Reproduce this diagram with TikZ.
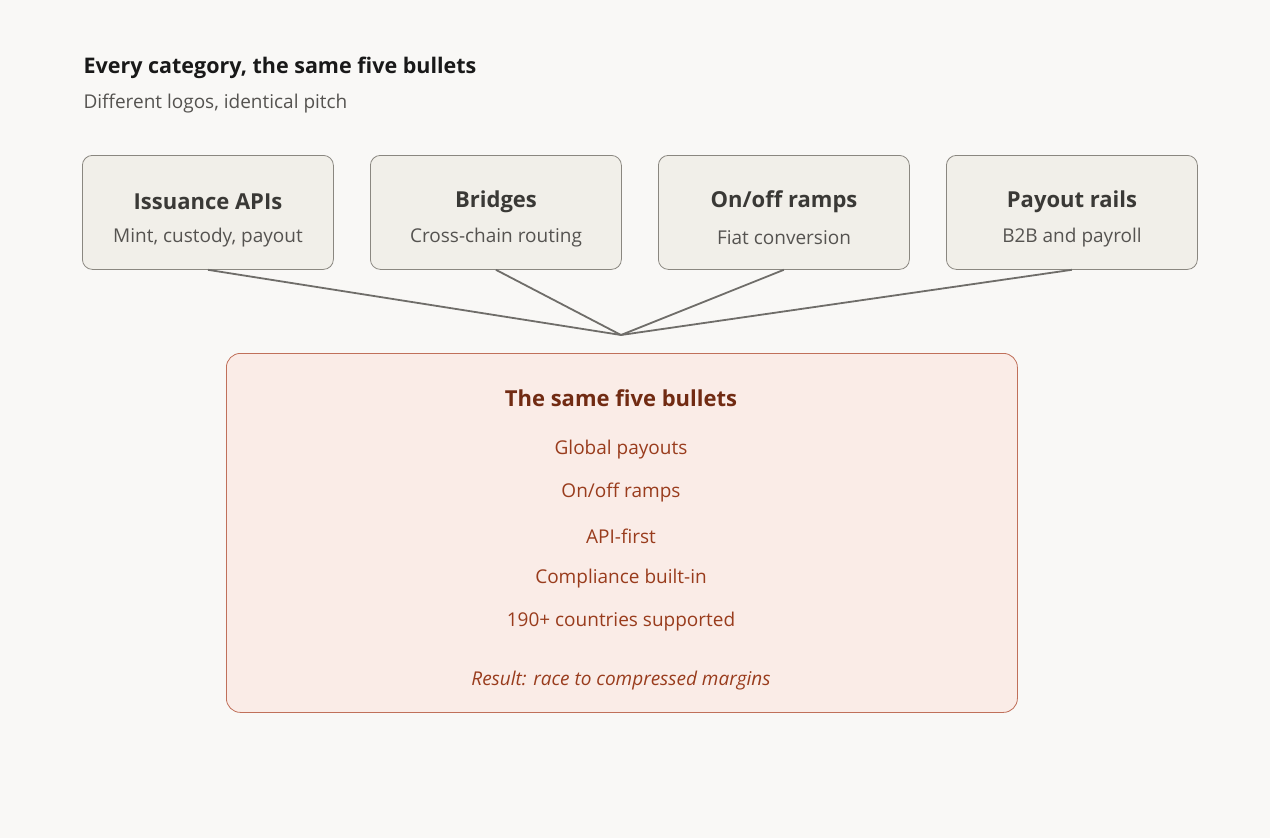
\documentclass[tikz,border=0pt]{standalone}
\usepackage{fontspec}
\setmainfont{Open Sans}
\definecolor{bg}{HTML}{F9F8F6}
\definecolor{boxf}{HTML}{F1EFE9}
\definecolor{boxd}{HTML}{8A8780}
\definecolor{ln}{HTML}{6F6D69}
\definecolor{tdark}{HTML}{3A3936}
\definecolor{tmid}{HTML}{555350}
\definecolor{redf}{HTML}{FAECE7}
\definecolor{redd}{HTML}{C0705A}
\definecolor{redt}{HTML}{993C1D}
\definecolor{redh}{HTML}{712B13}
\begin{document}
\begin{tikzpicture}[x=1pt,y=-1pt,
  cat/.style={draw=boxd,fill=boxf,rounded corners=10pt,line width=0.8pt,minimum width=251pt,minimum height=114pt,anchor=north west},
  hd/.style={font=\fontsize{22}{26}\selectfont\bfseries,text=tdark},
  sb/.style={font=\fontsize{19}{23}\selectfont,text=tmid},
  bl/.style={font=\fontsize{19}{23}\selectfont,text=redt},
  conn/.style={draw=ln,line width=1.8pt}]
\fill[bg] (0,0) rectangle (1270,838);
\node[anchor=west,font=\fontsize{21.5}{26}\selectfont\bfseries,text=black!90] (title) at (80,68) {Every category, the same five bullets};
\node[anchor=west,font=\fontsize{19}{23}\selectfont,text=tmid] (sub) at (80,104) {Different logos, identical pitch};
\node[cat] (b1) at (82,155) {};
\node[cat] (b2) at (370,155) {};
\node[cat] (b3) at (658,155) {};
\node[cat] (b4) at (946,155) {};
\node[hd] (b1h) at (208,202) {Issuance APIs};
\node[sb] (b1s) at (208,238) {Mint, custody, payout};
\node[hd] (b2h) at (496,202) {Bridges};
\node[sb] (b2s) at (496,238) {Cross-chain routing};
\node[hd] (b3h) at (784,202) {On/off ramps};
\node[sb] (b3s) at (784,238) {Fiat conversion};
\node[hd] (b4h) at (1072,202) {Payout rails};
\node[sb] (b4s) at (1072,238) {B2B and payroll};
\coordinate (m) at (621,335);
\foreach \n in {b1,b2,b3,b4}{\draw[conn] (\n.south) -- (m);}
\node[draw=redd,fill=redf,rounded corners=14pt,line width=0.8pt,minimum width=791pt,minimum height=359pt,anchor=north west] (big) at (226,353) {};
\node[font=\fontsize{22}{26}\selectfont\bfseries,text=redh] (bt) at (621,398) {The same five bullets};
\node[bl] (l1) at (621,450) {Global payouts};
\node[bl] (l2) at (621,493) {On/off ramps};
\node[bl] (l3) at (621,536) {API-first};
\node[bl] (l4) at (621,579) {Compliance built-in};
\node[bl] (l5) at (621,622) {190+ countries supported};
\node[bl,font=\fontsize{19}{23}\selectfont\itshape] (res) at (621,681) {Result: race to compressed margins};
\end{tikzpicture}
\end{document}
